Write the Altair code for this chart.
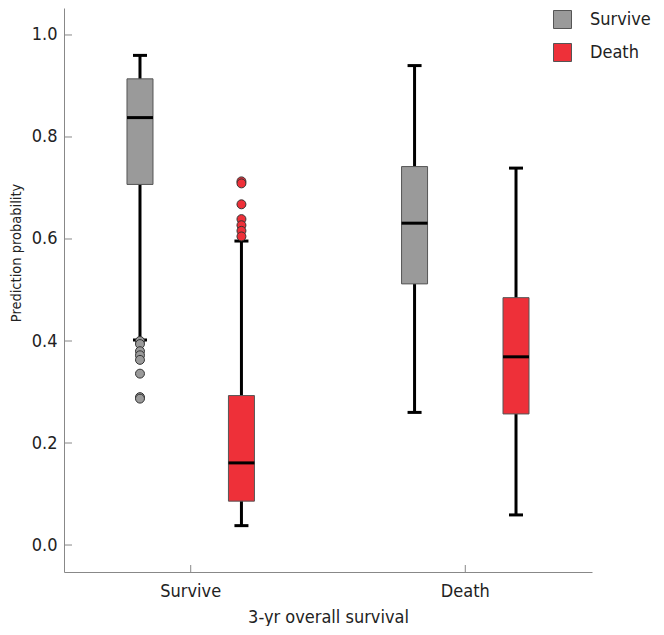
import altair as alt
import pandas as pd

# ---- data ----
groups = ["Survive", "Death"]          # x categories (3-yr overall survival)
classes = ["Survive", "Death"]         # predicted class (legend)
box_group = ["Survive", "Survive", "Death", "Death"]
box_class = ["Survive", "Death", "Survive", "Death"]
lower = [0.402, 0.038, 0.260, 0.059]
q1 = [0.707, 0.086, 0.512, 0.257]
median = [0.838, 0.161, 0.631, 0.369]
q3 = [0.914, 0.293, 0.742, 0.485]
upper = [0.960, 0.596, 0.940, 0.739]

out_group = ["Survive"] * 8 + ["Survive"] * 7
out_class = ["Survive"] * 8 + ["Death"] * 7
out_value = [0.400, 0.394, 0.380, 0.372, 0.363, 0.336, 0.290, 0.287,
             0.713, 0.709, 0.668, 0.639, 0.627, 0.616, 0.605]

y_ticks = [0.0, 0.2, 0.4, 0.6, 0.8, 1.0]
colors = ["#9a9a9a", "#ee3039"]

FONT = "DejaVu Sans Condensed, DejaVu Sans"
W, H = 528, 564

box_df = pd.DataFrame({"group": box_group, "cls": box_class, "lower": lower,
                       "q1": q1, "median": median, "q3": q3, "upper": upper})
out_df = pd.DataFrame({"group": out_group, "cls": out_class, "value": out_value})
ytick_df = pd.DataFrame({"v": y_ticks})
xtick_df = pd.DataFrame({"group": groups})

yscale = alt.Scale(domain=[-0.0529, 1.0529], nice=False, zero=False)
yaxis = alt.Axis(values=y_ticks, format=".1f", tickSize=0, labelPadding=7,
                 title="Prediction probability", titleFontSize=14.5, titlePadding=8,
                 titleY=244.5, labelFontSize=18)
xscale = alt.Scale(domain=groups, paddingInner=0.261, paddingOuter=0.092)
xaxis = alt.Axis(title="3-yr overall survival", labelAngle=0, tickSize=0,
                 labelPadding=10, titlePadding=8, titleFontSize=18, labelFontSize=18)


def X():
    return alt.X("group:N", scale=xscale, axis=xaxis)


def XO():
    return alt.XOffset("cls:N", scale=alt.Scale(domain=classes))


def Y(field):
    return alt.Y(field, scale=yscale, axis=yaxis)


base = alt.Chart(box_df)

whisker = base.mark_rule(color="black", strokeWidth=3).encode(
    x=X(), xOffset=XO(), y=Y("lower:Q"), y2="upper:Q")

box = base.mark_bar(size=26, stroke="#555555", strokeWidth=1, opacity=1).encode(
    x=X(), xOffset=XO(), y=Y("q1:Q"), y2="q3:Q",
    color=alt.Color("cls:N", scale=alt.Scale(domain=classes, range=colors),
                    legend=alt.Legend(title=None, orient="none", legendX=489, legendY=2,
                                      symbolType="square", symbolSize=324,
                                      symbolStrokeColor="#555555", symbolStrokeWidth=1,
                                      labelFontSize=18, labelFont=FONT, labelColor="#222222",
                                      rowPadding=10, labelOffset=18, padding=0)))

med = base.mark_tick(color="black", size=26, thickness=3, opacity=1).encode(
    x=X(), xOffset=XO(), y=Y("median:Q"))

cap_lo = base.mark_tick(color="black", size=14, thickness=3, opacity=1).encode(
    x=X(), xOffset=XO(), y=Y("lower:Q"))
cap_hi = base.mark_tick(color="black", size=14, thickness=3, opacity=1).encode(
    x=X(), xOffset=XO(), y=Y("upper:Q"))

outliers = alt.Chart(out_df).mark_point(filled=True, size=80, stroke="#333333",
                                        strokeWidth=1, opacity=1).encode(
    x=X(), xOffset=XO(), y=Y("value:Q"),
    fill=alt.Fill("cls:N", scale=alt.Scale(domain=classes, range=colors), legend=None))

yticks = alt.Chart(ytick_df).mark_rule(color="#888888", strokeWidth=1).encode(
    y=Y("v:Q"), x=alt.value(0), x2=alt.value(8))

xticks = alt.Chart(xtick_df).mark_rule(color="#888888", strokeWidth=1).encode(
    x=X(), y=alt.value(H - 7), y2=alt.value(H))

chart = alt.layer(yticks, xticks, whisker, box, med, cap_lo, cap_hi, outliers).properties(
    width=W, height=H, padding=0
).configure_view(stroke=None).configure_axis(
    grid=False, domainColor="#888888", domainWidth=1, labelColor="#222222",
    titleColor="#222222", labelFont=FONT, titleFont=FONT, titleFontWeight="normal"
)

chart.save("out.html", embed_options={"renderer": "svg", "actions": False})
